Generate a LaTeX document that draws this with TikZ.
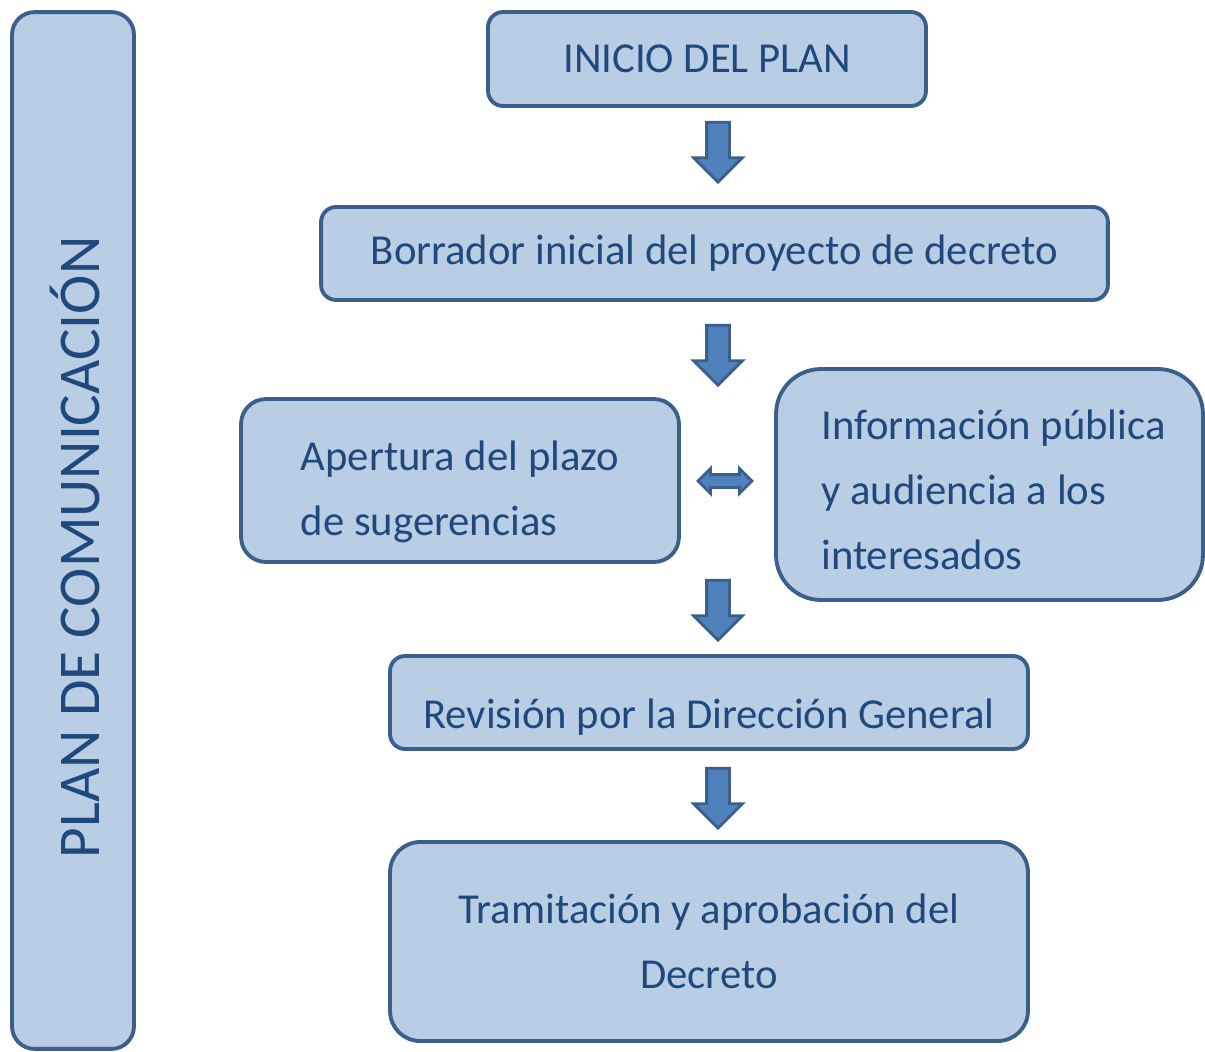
\documentclass[tikz,border=0pt]{standalone}
\usepackage{fontspec}
\setmainfont{Carlito}
\usetikzlibrary{shapes.arrows}
\definecolor{boxfill}{HTML}{B9CDE5}
\definecolor{boxline}{HTML}{3A5F8B}
\definecolor{boxtext}{HTML}{1F497D}
\definecolor{arrowfill}{HTML}{4F81BD}
\tikzset{
  stage/.style={draw=boxline, fill=boxfill, line width=2.2pt, text=boxtext,
    font=\fontsize{24.3}{37}\selectfont, inner sep=0pt, rounded corners=#1},
  stage/.default=0.3cm,
  downarrow/.style={single arrow, draw=boxline, fill=arrowfill, line width=1.6pt,
    minimum height=1.2cm, single arrow head extend=0.26cm,
    inner xsep=0pt, inner ysep=0.2cm, rotate=-90},
  bothways/.style={double arrow, draw=boxline, fill=arrowfill, line width=1.6pt,
    minimum height=1.08cm, double arrow head extend=0.12cm,
    inner xsep=0pt, inner ysep=0.1cm}
}
\begin{document}
\begin{tikzpicture}[x=0.02cm, y=-0.02cm]
\useasboundingbox (0,0) rectangle (1205,1052);

% side bar
\node[stage=0.45cm, minimum width=2.44cm, minimum height=20.74cm] (plan) at (73,530.5) {};
\node[text=boxtext, font=\fontsize{33.7}{36}\selectfont, rotate=90] (plantext) at (75,547.5) {PLAN DE COMUNICACIÓN};

% steps
\node[stage, minimum width=8.76cm, minimum height=1.88cm] (inicio) at (707,59) {INICIO DEL PLAN};
\node[stage, minimum width=15.74cm, minimum height=1.86cm] (borrador) at (714.5,253.5) {Borrador inicial del proyecto de decreto};
\node[stage=0.5cm, minimum width=8.76cm, minimum height=3.26cm, align=left] (apertura) at (460,480.5) {\rule{0pt}{1.04cm}Apertura del plazo\\de sugerencias};
\node[stage=0.9cm, minimum width=8.54cm, minimum height=4.62cm, align=left] (informacion) at (989.5,484.5) {\rule{0pt}{0.8cm}\hspace{0.16cm}Información pública\\\hspace*{0.16cm}y audiencia a los\\\hspace*{0.16cm}interesados};
\node[stage, minimum width=12.76cm, minimum height=1.86cm, text height=1.2cm, text depth=0.17cm] (revision) at (709,702.5) {Revisión por la Dirección General};
\node[stage=0.6cm, minimum width=12.76cm, minimum height=3.98cm, align=center] (tramitacion) at (709,941.5) {Tramitación y aprobación del\\Decreto};

% block arrows
\node[downarrow] (a1) at (718,146.5) {};
\node[downarrow] (a2) at (718,349.5) {};
\node[downarrow] (a3) at (718,604.5) {};
\node[downarrow] (a4) at (718,792.5) {};
\node[bothways] (a5) at (725,481) {};
\end{tikzpicture}
\end{document}
